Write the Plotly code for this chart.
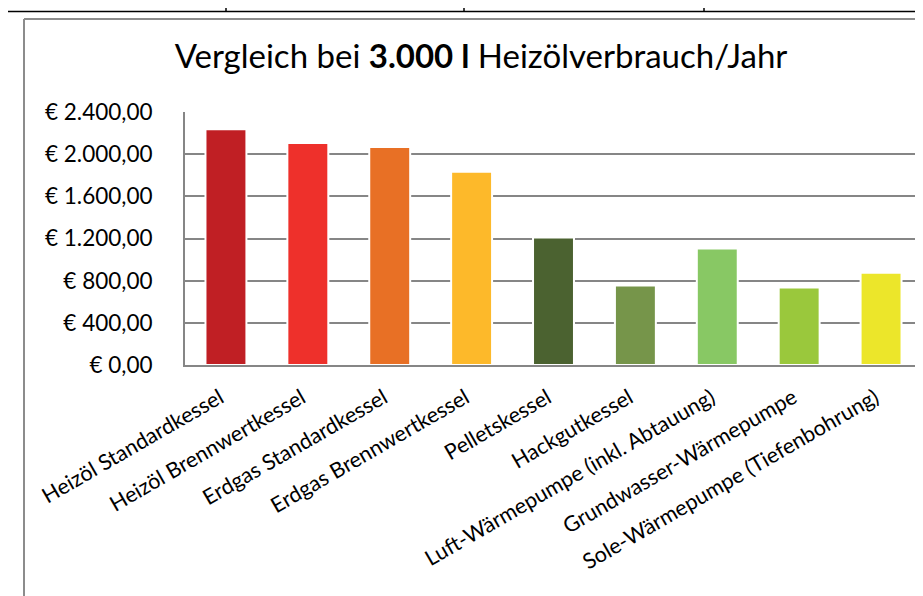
import plotly.graph_objects as go

categories = [
    "Heizöl Standardkessel",
    "Heizöl Brennwertkessel",
    "Erdgas Standardkessel",
    "Erdgas Brennwertkessel",
    "Pelletskessel",
    "Hackgutkessel",
    "Luft-Wärmepumpe (inkl. Abtauung)",
    "Grundwasser-Wärmepumpe",
    "Sole-Wärmepumpe (Tiefenbohrung)",
]
costs = [2236, 2105, 2067, 1833, 1210, 754, 1105, 735, 874]
bar_colors = ["#C01F24", "#EE302B", "#E87025", "#FDB92A", "#4B6230",
              "#76954A", "#88C864", "#9AC83C", "#ECE62A"]
tick_values = [0, 400, 800, 1200, 1600, 2000, 2400]
tick_labels = ["€ 0,00", "€ 400,00", "€ 800,00", "€ 1.200,00",
               "€ 1.600,00", "€ 2.000,00", "€ 2.400,00"]
title_text = "Vergleich bei <b>3.000 l</b> Heizölverbrauch/Jahr"

W, H = 923, 596
PL, PR, PT, PB = 177, 914, 104, 357
FONT = "Lato"
GRAY = "#868686"


def px(x):
    return x / W


def py(y):
    return 1 - y / H


fig = go.Figure(
    go.Bar(
        x=categories,
        y=costs,
        marker=dict(color=bar_colors, line=dict(color="white", width=2)),
        width=0.5,
        hoverinfo="x+y",
    )
)

fig.update_layout(
    width=W,
    height=H,
    margin=dict(l=0, r=0, t=0, b=0),
    paper_bgcolor="white",
    plot_bgcolor="white",
    font=dict(family=FONT, size=22, color="black"),
    showlegend=False,
    title=dict(
        text=title_text,
        x=px(473),
        y=py(48),
        xanchor="center",
        yanchor="middle",
        font=dict(family=FONT, size=33, color="black"),
    ),
    xaxis=dict(
        domain=[px(PL), px(PR)],
        type="category",
        range=[-0.5, len(categories) - 0.5],
        showline=True,
        linecolor=GRAY,
        linewidth=2,
        showgrid=False,
        ticks="",
        tickangle=-30,
        ticklabelstandoff=10,
        ticklabelshift=-6,
        tickfont=dict(family=FONT, size=21.5, color="black"),
        automargin=False,
    ),
    yaxis=dict(
        domain=[py(PB), py(PT)],
        range=[0, 2400],
        tickvals=tick_values,
        ticktext=tick_labels,
        showline=True,
        linecolor=GRAY,
        linewidth=2,
        showgrid=True,
        gridcolor=GRAY,
        gridwidth=1.5,
        zeroline=False,
        ticks="",
        ticklabelstandoff=26,
        tickfont=dict(family=FONT, size=22.5, color="black"),
        automargin=False,
    ),
    shapes=[
        # table lines at the top
        dict(type="line", xref="paper", yref="paper", x0=0, x1=1, y0=py(3.5), y1=py(3.5),
             line=dict(color="black", width=1.5)),
        dict(type="line", xref="paper", yref="paper", x0=px(218), x1=px(218), y0=1, y1=py(3.5),
             line=dict(color="black", width=1.5)),
        dict(type="line", xref="paper", yref="paper", x0=px(456), x1=px(456), y0=1, y1=py(3.5),
             line=dict(color="black", width=1.5)),
        dict(type="line", xref="paper", yref="paper", x0=px(696), x1=px(696), y0=1, y1=py(3.5),
             line=dict(color="black", width=1.5)),
        # chart frame
        dict(type="line", xref="paper", yref="paper", x0=px(16), x1=1.01, y0=py(11), y1=py(11),
             line=dict(color="#8c8c8c", width=2)),
        dict(type="line", xref="paper", yref="paper", x0=px(16), x1=px(16), y0=py(11), y1=-0.01,
             line=dict(color="#8c8c8c", width=2)),
    ],
)

fig.write_html("out.html")
